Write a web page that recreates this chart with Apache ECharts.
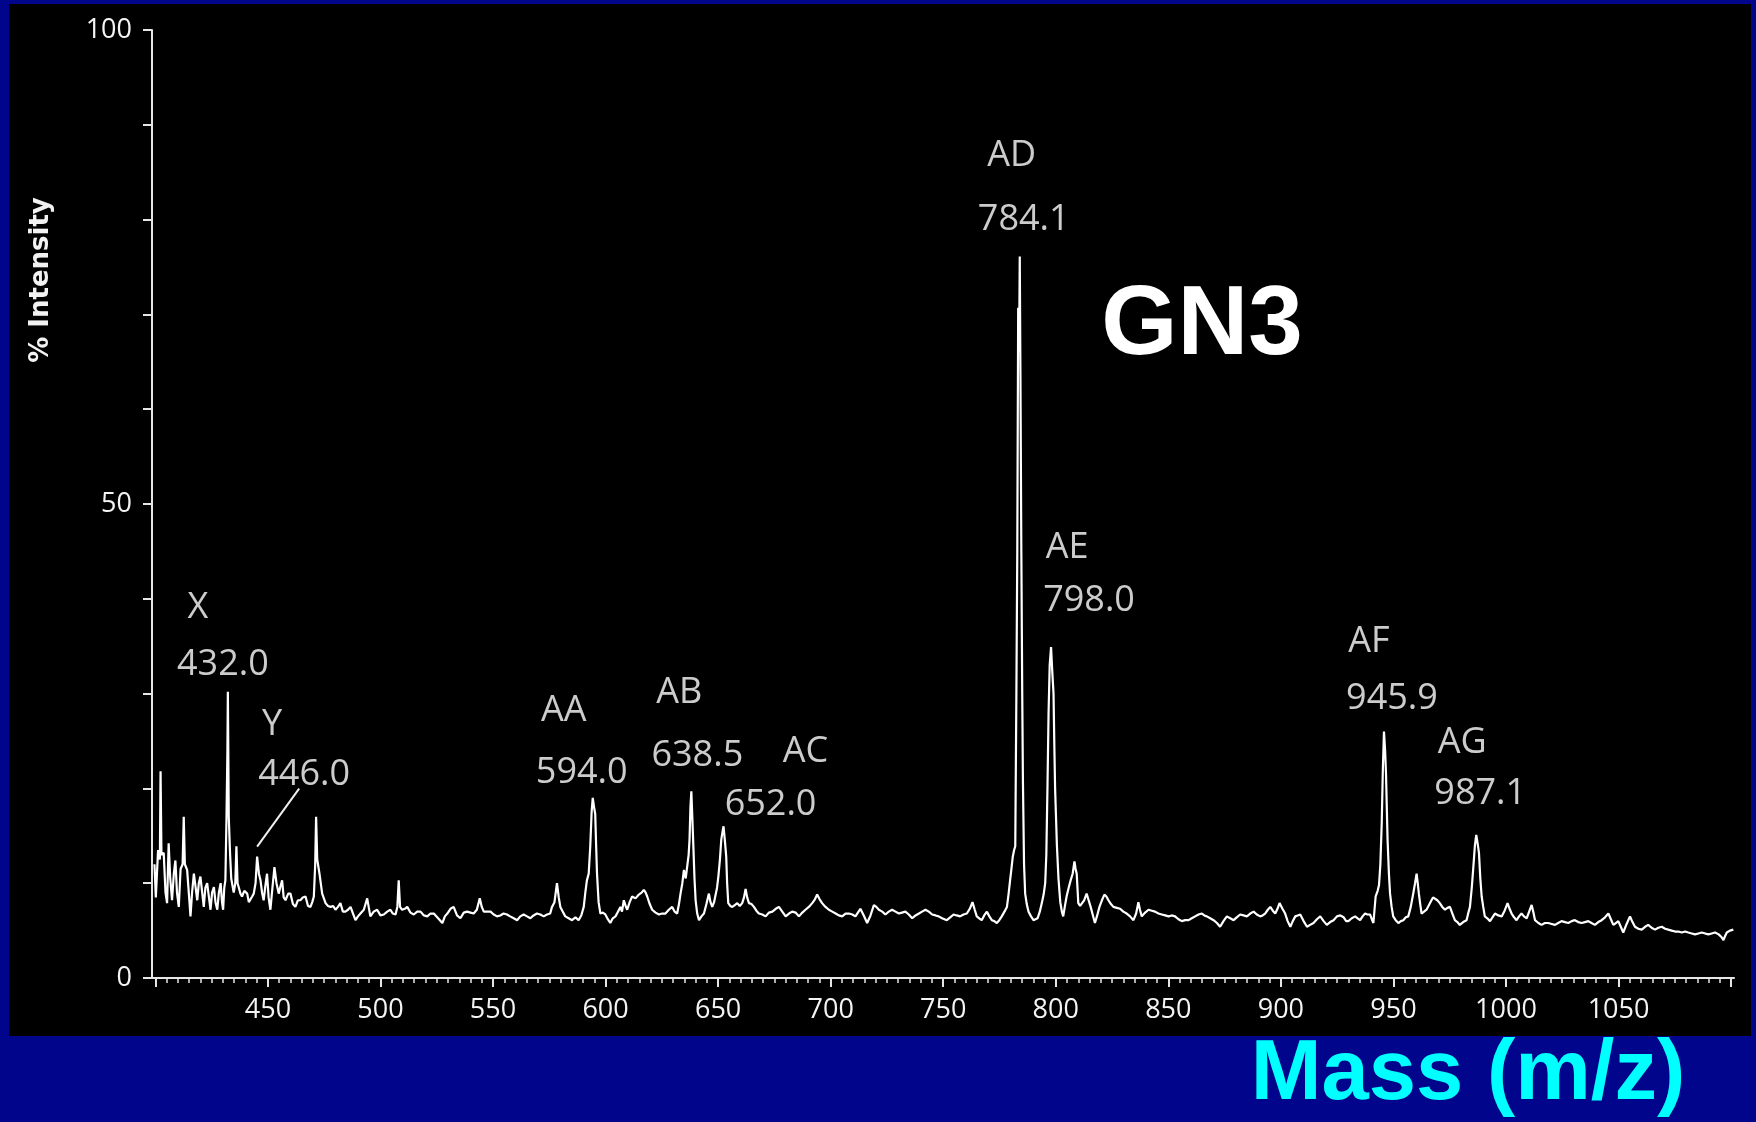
<!DOCTYPE html>
<html><head><meta charset="utf-8">
<script src="https://cdn.jsdelivr.net/npm/echarts@6/dist/echarts.min.js"></script>
<style>
html,body{margin:0;padding:0;width:1756px;height:1122px;overflow:hidden;background:#00058c;}
#panel{position:absolute;left:9px;top:4px;width:1742px;height:1032px;background:#000;}
#chart{position:absolute;left:0;top:0;width:1756px;height:1122px;}
</style></head><body>
<div id="panel"></div><div id="chart"></div>
<script>
// ---------- DATA ----------
// spectrum segments: [m/z, % intensity]
const SEG_400_575 = [
[399.6,12.0],[400.2,8.5],[401.2,13.5],[402.0,12.5],[402.3,21.8],[402.7,13.0],[403.7,13.2],[404.5,9.0],[405.2,7.9],[405.9,14.2],
[406.6,10.5],[407.4,8.2],[408.2,11.0],[408.9,12.4],[409.6,9.0],[410.4,7.5],[411.2,11.5],[412.1,12.0],[412.6,17.0],[413.1,12.0],
[414.1,11.4],[415.0,8.5],[415.6,6.5],[416.3,9.0],[417.1,11.0],[418.6,8.2],[419.3,10.0],[420.0,10.7],[420.8,9.0],[421.5,7.5],
[422.2,9.5],[423.0,10.0],[423.8,8.5],[424.5,7.2],[425.2,9.0],[426.0,9.6],[426.7,8.0],[427.5,7.2],[428.2,9.0],[429.0,10.0],
[429.6,8.0],[430.1,7.2],[430.6,9.5],[431.1,10.3],[431.6,17.0],[432.0,24.0],[432.2,30.2],[432.6,17.0],[433.2,13.0],[433.7,10.5],
[434.1,10.3],[434.8,9.0],[435.5,10.0],[436.0,13.9],[436.5,10.0],[437.0,9.6],[437.8,8.9],[438.5,8.6],[439.5,9.2],[440.8,8.9],
[441.5,8.0],[442.2,7.9],[443.0,8.6],[443.7,8.9],[444.5,10.0],[445.2,12.8],[446.0,11.0],[446.7,10.3],[447.4,9.0],[448.1,8.2],
[448.9,9.8],[449.6,11.0],[450.3,8.5],[451.1,7.2],[452.0,9.5],[452.9,11.7],[453.8,10.0],[454.8,8.9],[455.5,9.6],[456.3,10.3],
[457.0,8.5],[457.8,8.2],[459.0,8.9],[460.0,8.9],[461.1,7.8],[462.2,7.5],[463.3,8.2],[464.4,8.2],[465.5,8.5],[466.7,8.6],
[467.8,7.6],[468.9,7.5],[469.7,8.0],[470.4,8.6],[471.0,12.0],[471.4,17.0],[471.9,12.5],[472.9,11.0],[474.1,8.9],[475.6,7.9],
[476.7,7.6],[477.8,7.5],[479.0,7.6],[480.0,7.2],[481.1,7.5],[482.2,7.9],[483.3,7.0],[484.4,7.0],[485.6,7.2],[486.7,7.5],
[487.8,6.8],[488.9,6.1],[490.0,6.5],[491.1,6.8],[492.6,7.2],[494.1,8.4],[495.5,6.5],[497.0,7.0],[498.5,7.2],[500.0,6.6],
[501.5,6.7],[503.0,7.0],[504.4,7.2],[505.5,6.8],[506.7,6.7],[507.5,7.5],[508.1,10.3],[508.7,7.5],[509.6,7.2],[510.8,7.3],
[511.9,7.5],[513.3,6.9],[514.8,6.7],[516.3,7.0],[517.8,7.0],[519.3,6.6],[520.8,6.5],[522.2,6.8],[523.7,6.8],[525.6,6.3],
[527.5,5.8],[528.6,6.5],[529.7,6.8],[531.1,7.3],[532.5,7.5],[534.0,6.6],[535.5,6.3],[537.0,6.9],[538.5,7.0],[540.0,6.9],
[541.4,6.8],[542.8,7.2],[544.1,8.4],[545.0,7.5],[545.9,7.0],[547.4,7.0],[548.9,7.0],[550.3,6.7],[551.8,6.5],[553.2,6.6],
[554.7,6.8],[556.2,6.7],[557.6,6.5],[559.2,6.3],[560.7,6.1],[562.1,6.5],[563.6,6.7],[565.1,6.5],[566.6,6.3],[568.0,6.6],
[569.5,6.8],[571.0,6.7],[572.5,6.5],[574.0,6.7]
];
const SEG_575_750 = [
[575.4,6.8],[576.2,7.5],[577.3,8.0],[578.4,10.0],[579.2,8.5],[579.9,7.5],[581.0,7.0],[582.1,6.5],[583.6,6.3],[585.1,6.1],
[586.6,6.4],[588.0,6.1],[589.2,6.6],[590.3,7.5],[591.0,9.0],[591.7,10.3],[592.5,11.0],[593.2,13.9],[593.8,17.5],[594.3,19.0],
[594.9,18.0],[595.4,17.3],[595.8,14.0],[596.2,11.0],[596.9,8.0],[597.7,6.8],[598.8,6.9],[599.9,6.7],[601.0,6.2],[602.1,5.8],
[603.2,6.3],[604.4,6.5],[605.5,7.0],[606.6,7.5],[607.3,7.0],[608.1,8.2],[608.9,7.6],[609.6,7.2],[610.7,8.0],[611.8,8.6],
[613.3,8.4],[614.8,8.8],[616.0,9.0],[617.0,9.3],[617.8,9.0],[618.5,8.6],[619.6,7.8],[620.7,7.2],[622.2,6.9],[623.7,6.7],
[625.1,6.8],[626.6,6.8],[628.1,7.2],[629.6,7.5],[630.7,7.0],[631.8,6.8],[632.6,7.8],[633.3,8.9],[634.1,10.0],[634.8,11.4],
[635.6,10.5],[636.3,10.3],[636.9,13.0],[637.3,14.6],[637.7,18.0],[638.1,19.7],[638.6,16.5],[639.0,13.9],[639.5,10.5],[640.0,8.2],
[640.7,6.8],[641.5,6.1],[642.6,6.5],[643.7,6.8],[644.8,7.8],[645.9,8.9],[646.6,8.0],[647.4,7.5],[648.2,8.0],[648.9,8.2],
[649.5,9.5],[650.1,10.7],[650.8,12.5],[651.4,14.6],[652.0,15.5],[652.4,16.0],[653.0,14.5],[653.6,12.8],[654.0,10.0],[654.5,7.9],
[655.4,7.6],[656.3,7.5],[657.4,7.7],[658.5,7.9],[659.6,7.6],[660.7,7.9],[661.5,8.5],[662.2,9.4],[662.9,8.5],[663.7,7.9],
[664.8,7.8],[665.9,7.5],[667.0,7.1],[668.1,6.8],[669.6,6.7],[671.1,6.5],[672.6,6.9],[674.1,7.0],[675.6,7.3],[677.0,7.5],
[678.5,7.0],[680.0,6.5],[681.5,6.8],[682.9,7.0],[684.4,6.9],[685.9,6.5],[687.4,6.9],[688.8,7.2],[690.3,7.5],[691.8,7.9],
[693.0,8.3],[694.0,8.8],[695.1,8.3],[696.2,7.9],[697.7,7.5],[699.2,7.2],[700.7,7.0],[702.2,6.8],[703.6,6.6],[705.1,6.5],
[706.6,6.8],[708.1,6.8],[709.6,6.7],[711.0,6.5],[712.1,6.9],[713.2,7.3],[714.7,6.6],[716.2,5.8],[717.7,6.6],[719.2,7.7],
[720.3,7.5],[721.4,7.2],[722.9,7.0],[724.3,6.7],[725.8,7.0],[727.3,7.2],[728.8,7.0],[730.3,6.8],[731.7,6.9],[733.2,7.0],
[734.7,6.7],[736.2,6.3],[737.7,6.6],[739.2,6.8],[740.6,7.0],[742.1,7.2],[743.6,7.0],[745.1,6.7],[746.6,6.6],[748.0,6.5],
[749.5,6.3]
];
const SEG_750_925 = [
[751.6,6.1],[753.1,6.4],[754.6,6.7],[756.0,6.6],[757.5,6.5],[759.0,6.7],[760.5,6.8],[761.8,7.3],[763.0,8.0],[764.0,7.2],
[764.9,6.5],[766.0,6.3],[767.1,6.1],[768.2,6.6],[769.4,7.0],[770.5,6.5],[771.6,6.1],[772.7,6.0],[773.8,5.8],[774.9,6.1],
[776.0,6.5],[777.2,7.0],[778.3,7.5],[779.0,8.8],[779.7,10.3],[780.3,11.5],[780.9,12.8],[781.5,13.5],[782.0,13.9],[782.5,30.0],
[782.9,45.0],[783.3,70.7],[783.7,66.0],[784.0,76.1],[784.3,63.6],[784.7,45.0],[785.1,30.0],[785.4,20.9],[785.9,12.0],[786.4,8.9],
[787.1,7.8],[787.9,7.0],[789.0,6.5],[790.1,6.1],[791.0,6.2],[791.9,6.3],[792.9,7.0],[793.8,7.9],[794.6,8.8],[795.3,10.0],
[795.8,13.0],[796.3,20.0],[796.8,28.0],[797.3,33.0],[797.9,34.9],[798.4,32.5],[799.0,30.0],[799.4,24.0],[799.7,20.0],[800.1,17.0],
[800.5,14.0],[801.2,10.5],[802.0,8.0],[802.7,7.0],[803.3,6.5],[804.0,7.5],[804.8,8.6],[805.7,9.5],[806.6,10.3],[807.5,11.0],
[808.3,12.3],[808.8,11.5],[809.3,11.0],[810.0,7.9],[810.8,7.6],[811.5,7.5],[812.6,8.2],[813.7,8.9],[814.6,8.2],[815.5,7.5],
[816.5,6.6],[817.4,5.8],[818.4,6.6],[819.4,7.5],[820.5,8.2],[821.6,8.8],[822.5,8.6],[823.4,8.2],[824.5,7.8],[825.6,7.5],
[827.1,7.4],[828.6,7.3],[830.0,7.0],[831.5,6.8],[833.0,6.5],[834.5,6.1],[835.7,6.8],[836.7,8.0],[837.4,7.2],[838.2,6.5],
[839.7,6.9],[841.2,7.2],[842.7,7.1],[844.1,7.0],[845.6,6.8],[847.1,6.7],[848.6,6.6],[850.1,6.5],[851.5,6.6],[853.0,6.5],
[854.5,6.2],[856.0,6.0],[857.5,6.1],[859.0,6.1],[860.4,6.3],[861.9,6.5],[863.4,6.7],[864.9,6.8],[866.0,6.6],[867.1,6.5],
[868.6,6.3],[870.1,6.1],[871.6,5.8],[873.0,5.4],[874.5,6.0],[876.0,6.5],[877.5,6.3],[879.0,6.1],[880.4,6.4],[881.9,6.7],
[883.4,6.6],[884.9,6.5],[886.4,6.8],[887.9,7.0],[889.3,6.7],[890.8,6.5],[891.9,6.6],[893.0,6.8],[894.2,7.2],[895.3,7.5],
[896.4,7.1],[897.5,6.8],[898.5,7.3],[899.4,7.9],[900.7,7.3],[901.9,6.8],[903.0,6.0],[904.2,5.4],[905.3,6.0],[906.4,6.5],
[907.5,6.6],[908.6,6.7],[910.1,6.0],[911.6,5.4],[913.0,5.6],[914.5,5.8],[916.0,6.2],[917.5,6.5],[919.0,6.0],[920.4,5.6],
[921.9,5.9],[923.4,6.1]
];
const SEG_925_1101 = [
[924.9,6.5],[926.4,6.6],[927.9,6.4],[929.0,6.0],[930.0,6.0],[931.5,6.3],[933.0,6.5],[934.1,6.3],[935.2,6.1],[936.3,6.5],
[937.4,6.8],[938.5,6.7],[939.6,6.7],[940.4,6.2],[941.1,5.8],[942.1,8.6],[943.0,9.2],[943.6,9.8],[944.2,12.0],[944.8,16.3],
[945.3,22.0],[945.8,26.0],[946.3,24.0],[946.7,21.6],[947.4,14.6],[948.0,11.0],[948.5,8.9],[949.2,7.5],[949.9,6.5],[951.0,6.1],
[952.2,5.8],[953.3,6.0],[954.4,6.1],[955.5,6.4],[956.6,6.5],[957.7,7.5],[958.8,8.9],[959.6,10.0],[960.3,11.0],[960.8,10.0],
[961.3,8.9],[961.9,7.8],[962.5,6.8],[963.6,7.0],[964.7,7.2],[965.8,7.7],[966.9,8.2],[967.6,8.5],[968.4,8.6],[969.5,8.2],
[970.6,7.9],[971.7,7.5],[972.9,7.2],[974.0,7.4],[975.1,7.5],[976.2,6.8],[977.3,6.1],[978.4,5.9],[979.5,5.6],[981.0,5.9],
[982.5,6.1],[983.2,6.8],[984.0,7.5],[984.8,9.5],[985.5,11.7],[986.2,14.0],[986.8,15.1],[987.4,14.2],[988.0,13.2],[988.6,10.5],
[989.2,8.6],[989.9,7.5],[990.6,6.5],[991.7,6.3],[992.9,6.0],[994.0,6.4],[995.1,6.8],[996.6,6.6],[998.1,6.5],[999.4,7.1],
[1000.7,7.9],[1001.6,7.3],[1002.5,6.8],[1003.6,6.4],[1004.7,6.1],[1005.8,6.5],[1006.9,6.8],[1008.0,6.5],[1009.2,6.3],[1010.3,7.0],
[1011.4,7.7],[1012.2,6.9],[1012.9,6.1],[1014.4,5.8],[1015.8,5.6],[1017.3,5.8],[1018.8,5.8],[1020.3,5.7],[1021.8,5.6],[1023.2,5.8],
[1024.7,6.0],[1026.2,5.9],[1027.7,5.8],[1029.2,6.0],[1030.6,6.1],[1032.1,5.9],[1033.6,5.8],[1035.1,5.9],[1036.6,6.0],[1038.0,5.8],
[1039.5,5.6],[1041.0,5.9],[1042.5,6.1],[1044.0,6.4],[1045.5,6.8],[1046.6,6.2],[1047.7,5.6],[1048.8,5.8],[1049.9,6.0],[1051.0,5.4],
[1052.1,4.8],[1053.6,5.7],[1055.1,6.5],[1056.2,5.9],[1057.3,5.4],[1058.8,5.2],[1060.3,5.1],[1061.8,5.4],[1063.2,5.6],[1064.7,5.3],
[1066.2,5.1],[1067.7,5.3],[1069.2,5.4],[1070.7,5.2],[1072.1,5.1],[1073.6,5.0],[1075.1,4.9],[1076.6,4.9],[1078.1,4.8],[1079.6,4.9],
[1081.0,4.8],[1082.5,4.7],[1084.0,4.6],[1085.5,4.7],[1087.0,4.8],[1088.5,4.7],[1089.9,4.6],[1091.4,4.7],[1092.9,4.8],[1094.5,4.6],
[1095.8,4.3],[1096.6,4.0],[1097.3,4.4],[1098.1,4.8],[1099.5,5.0],[1101.0,5.1]
];
// annotated peaks
const PEAK_CODES  = ['X', 'Y', 'AA', 'AB', 'AC', 'AD', 'AE', 'AF', 'AG'];
const PEAK_MASSES = ['432.0', '446.0', '594.0', '638.5', '652.0', '784.1', '798.0', '945.9', '987.1'];
// axis tick labels
const X_TICK_LABELS = [450, 500, 550, 600, 650, 700, 750, 800, 850, 900, 950, 1000, 1050];
const Y_TICK_LABELS = [0, 50, 100];
// texts
const CHART_TITLE = 'GN3';
const X_AXIS_TITLE = 'Mass (m/z)';
const Y_AXIS_TITLE = '% Intensity';

// ---------- LAYOUT (pixels) ----------
const X_MIN = 398.5, X_MAX = 1101.3;          // axis line extent
const TICK_MIN = 400, TICK_MAX = 1100;        // tick scale (multiples of the interval)
const PLOT_LEFT = 152, PLOT_RIGHT_EDGE = 1734, PLOT_TOP = 30, PLOT_BOTTOM_Y = 978;
const PX_PER_UNIT = (PLOT_RIGHT_EDGE - PLOT_LEFT) / (X_MAX - X_MIN);
const TICK_LEFT = PLOT_LEFT + (TICK_MIN - X_MIN) * PX_PER_UNIT;
const TICK_RIGHT_EDGE = PLOT_LEFT + (TICK_MAX - X_MIN) * PX_PER_UNIT;
// label offsets from the peak top: [code dx, code dy, mass dx, mass dy]
const LABEL_OFFSETS = [
  [-30, -84, -5, -27],
  [15, -132, 47, -82],
  [-29, -87, -11, -25],
  [-12, -98, 6, -35],
  [82, -75, 47, -22],
  [-8, -101, 4, -37],
  [16, -99, 38, -46],
  [-15, -90, 8, -33],
  [-14, -92, 4, -41]
];
const LEADER = {peak: 1, from: [0, -10], to: [42, -68]};

// ---------- BUILD ----------
const spectrum = [].concat(SEG_400_575, SEG_575_750, SEG_750_925, SEG_925_1101);

function peakTop(massText) {
  const m = parseFloat(massText);
  let best = null;
  spectrum.forEach(p => {
    if (Math.abs(p[0] - m) <= 2.5 && (!best || p[1] > best[1])) best = p;
  });
  return best;
}
const peakPoints = PEAK_MASSES.map(peakTop);

const labelItems = [];
PEAK_CODES.forEach((code, i) => {
  const o = LABEL_OFFSETS[i];
  labelItems.push({name: code, value: peakPoints[i], label: {offset: [o[0], o[1]]}});
  labelItems.push({name: PEAK_MASSES[i], value: peakPoints[i], label: {offset: [o[2], o[3]]}});
});

const AX = '#e6e6e6';
const chart = echarts.init(document.getElementById('chart'), null, {renderer: 'canvas'});
const option = {
  backgroundColor: 'transparent',
  animation: false,
  grid: [
    {left: PLOT_LEFT, right: 1756 - PLOT_RIGHT_EDGE, top: PLOT_TOP, bottom: 1122 - PLOT_BOTTOM_Y},
    {left: TICK_LEFT, right: 1756 - TICK_RIGHT_EDGE, top: PLOT_TOP, bottom: 1122 - PLOT_BOTTOM_Y}
  ],
  xAxis: [{
    gridIndex: 0, type: 'value', min: X_MIN, max: X_MAX, position: 'bottom',
    axisLine: {show: true, onZero: false, lineStyle: {color: AX, width: 2}},
    axisTick: {show: false}, axisLabel: {show: false}, splitLine: {show: false}
  }, {
    gridIndex: 1, type: 'value', min: TICK_MIN, max: TICK_MAX, interval: 50, position: 'bottom',
    axisLine: {show: false, onZero: false},
    axisTick: {show: true, length: 9, lineStyle: {color: AX, width: 2}},
    minorTick: {show: true, splitNumber: 10, length: 5, lineStyle: {color: AX, width: 1.5}},
    axisLabel: {
      show: true, showMinLabel: true, showMaxLabel: true,
      formatter: v => (X_TICK_LABELS.indexOf(v) >= 0 ? String(v) : ''),
      color: '#f4f4f4', fontFamily: 'Open Sans', fontSize: 27, margin: 19
    },
    splitLine: {show: false}, minorSplitLine: {show: false}
  }],
  yAxis: [{
    gridIndex: 0, type: 'value', min: 0, max: 100, interval: 10,
    axisLine: {show: true, onZero: false, lineStyle: {color: AX, width: 2}},
    axisTick: {show: true, length: 9, lineStyle: {color: AX, width: 2}},
    axisLabel: {
      formatter: v => (Y_TICK_LABELS.indexOf(v) >= 0 ? String(v) : ''),
      color: '#f4f4f4', fontFamily: 'Open Sans', fontSize: 27, margin: 20
    },
    splitLine: {show: false}
  }, {
    gridIndex: 1, type: 'value', min: 0, max: 100, show: false
  }],
  series: [{
    type: 'line', xAxisIndex: 0, yAxisIndex: 0, data: spectrum, symbol: 'none', showSymbol: false,
    lineStyle: {color: '#ffffff', width: 2.2}, z: 3, silent: true
  }, {
    type: 'scatter', xAxisIndex: 0, yAxisIndex: 0, data: labelItems, symbolSize: 1,
    itemStyle: {color: 'rgba(0,0,0,0)'}, silent: true, z: 5,
    label: {
      show: true, position: 'inside', formatter: '{b}',
      color: '#ffffff', fontFamily: 'Open Sans', fontSize: 36,
      align: 'center', verticalAlign: 'middle'
    }
  }],
  graphic: [{
    type: 'text', x: 1202, y: 327, z: 10,
    style: {text: CHART_TITLE, fill: '#ffffff', fontSize: 98, fontWeight: 'bold',
      fontFamily: 'Liberation Sans', textAlign: 'center', textVerticalAlign: 'middle'}
  }, {
    type: 'text', x: 1468, y: 1076, z: 10,
    style: {text: X_AXIS_TITLE, fill: '#00ffff', fontSize: 85, fontWeight: 'bold',
      fontFamily: 'Liberation Sans', textAlign: 'center', textVerticalAlign: 'middle'}
  }, {
    type: 'text', x: 41, y: 280, rotation: Math.PI / 2, z: 10,
    style: {text: Y_AXIS_TITLE, fill: '#f2f2f2', fontSize: 26, fontWeight: 'bold',
      fontFamily: 'DejaVu Sans', textAlign: 'center', textVerticalAlign: 'middle'}
  }]
};
chart.setOption(option);

// leader line from the "446.0" label to its peak
const anchor = chart.convertToPixel({xAxisIndex: 0, yAxisIndex: 0}, peakPoints[LEADER.peak]);
chart.setOption({
  graphic: [{}, {}, {}, {
    type: 'line', z: 10,
    shape: {x1: anchor[0] + LEADER.from[0], y1: anchor[1] + LEADER.from[1],
            x2: anchor[0] + LEADER.to[0], y2: anchor[1] + LEADER.to[1]},
    style: {stroke: '#f0f0f0', lineWidth: 2}
  }]
});
</script>
</body></html>
